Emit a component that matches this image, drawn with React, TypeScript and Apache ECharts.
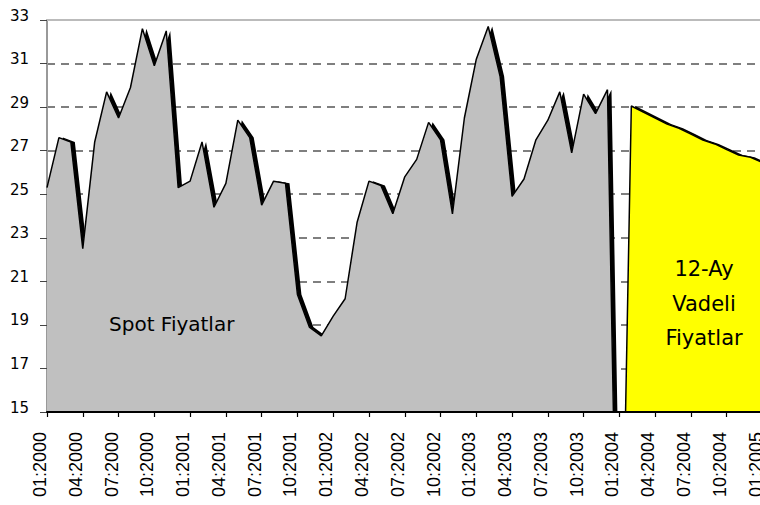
import React, { useEffect, useRef } from "react";
import * as echarts from "echarts";

const categories = [
  "01:2000","02:2000","03:2000","04:2000","05:2000","06:2000","07:2000","08:2000","09:2000","10:2000","11:2000","12:2000",
  "01:2001","02:2001","03:2001","04:2001","05:2001","06:2001","07:2001","08:2001","09:2001","10:2001","11:2001","12:2001",
  "01:2002","02:2002","03:2002","04:2002","05:2002","06:2002","07:2002","08:2002","09:2002","10:2002","11:2002","12:2002",
  "01:2003","02:2003","03:2003","04:2003","05:2003","06:2003","07:2003","08:2003","09:2003","10:2003","11:2003","12:2003",
  "01:2004","02:2004","03:2004","04:2004","05:2004","06:2004","07:2004","08:2004","09:2004","10:2004","11:2004","12:2004",
  "01:2005",
];

// Spot prices, 01:2000 .. 01:2004 (drops off below the axis at 01:2004)
const spotPrices = [
  25.3, 27.6, 27.4, 22.5, 27.4, 29.7, 28.5, 29.9, 32.6, 30.9, 32.5, 25.3,
  25.6, 27.4, 24.4, 25.5, 28.4, 27.6, 24.5, 25.6, 25.5, 20.4, 18.9, 18.5,
  19.4, 20.2, 23.7, 25.6, 25.4, 24.1, 25.8, 26.6, 28.3, 27.5, 24.1, 28.5,
  31.2, 32.7, 30.4, 24.9, 25.7, 27.5, 28.4, 29.7, 26.9, 29.6, 28.7, 29.8,
  0,
];

// 12-month futures prices, 01:2004 .. 01:2005
const futuresPrices = [
  0, 29.05, 28.77, 28.5, 28.22, 28.03, 27.76, 27.49, 27.31, 27.05, 26.8, 26.7, 26.45,
];

const yTicks = { min: 15, max: 33, interval: 2 };

const spotLabel = "Spot Fiyatlar";
const futuresLabel = "12-Ay\nVadeli\nFiyatlar";

export default function App() {
  const ref = useRef<HTMLDivElement>(null);

  useEffect(() => {
    if (!ref.current) return;
    const chart = echarts.init(ref.current, undefined, { renderer: "svg" });

    const spotData = categories.map((_, i) => (i < spotPrices.length ? spotPrices[i] : null));
    const futStart = categories.length - futuresPrices.length;
    const futData = categories.map((_, i) => (i >= futStart ? futuresPrices[i - futStart] : null));

    chart.setOption({
      animation: false,
      backgroundColor: "#ffffff",
      grid: { left: 47, top: 20, right: -2.5, bottom: 93, outerBoundsMode: "none" },
      xAxis: [
        {
          type: "category",
          data: categories,
          boundaryGap: false,
          position: "bottom",
          z: 10,
          axisLine: { lineStyle: { color: "#000", width: 2 } },
          axisTick: { interval: 2, length: 5, lineStyle: { color: "#000", width: 1.2 } },
          axisLabel: {
            interval: 2,
            rotate: 90,
            fontFamily: "Liberation Sans",
            fontSize: 18,
            color: "#000",
            margin: 20,
            verticalAlign: "bottom",
            lineHeight: 14,
          },
          splitLine: { show: false },
        },
        {
          type: "category",
          data: categories,
          boundaryGap: false,
          position: "top",
          axisLine: { lineStyle: { color: "#bbbbbb", width: 2 } },
          axisTick: { show: false },
          axisLabel: { show: false },
          splitLine: { show: false },
        },
      ],
      yAxis: {
        type: "value",
        min: yTicks.min,
        max: yTicks.max,
        interval: yTicks.interval,
        axisLine: { show: true, lineStyle: { color: "#999", width: 2 } },
        axisTick: { show: true, length: 7, lineStyle: { color: "#444" } },
        axisLabel: {
          fontFamily: "DejaVu Sans",
          fontSize: 15,
          color: "#000",
          margin: 18,
          verticalAlign: "bottom",
          lineHeight: 9,
        },
        splitLine: {
          show: true,
          showMinLine: false,
          showMaxLine: false,
          lineStyle: { color: "#555", width: 1.5, type: [8, 6] },
        },
      },
      series: [
        {
          name: "Spot Fiyatlar",
          type: "line",
          data: spotData,
          xAxisIndex: 0,
          showSymbol: false,
          lineStyle: { color: "#000", width: 1.5 },
          areaStyle: {
            color: "#c0c0c0",
            opacity: 1,
            shadowColor: "#000",
            shadowOffsetX: 4,
            shadowBlur: 0,
          },
          z: 2,
        },
        {
          name: "12-Ay Vadeli Fiyatlar",
          type: "line",
          data: futData,
          xAxisIndex: 0,
          showSymbol: false,
          lineStyle: { color: "#000", width: 1.5 },
          areaStyle: {
            color: "#ffff00",
            opacity: 1,
            shadowColor: "#000",
            shadowOffsetX: 4,
            shadowBlur: 0,
          },
          z: 2,
        },
      ],
      graphic: [
        {
          type: "text",
          x: 109,
          y: 323.5,
          z: 20,
          style: {
            text: spotLabel,
            fontFamily: "DejaVu Sans",
            fontSize: 20,
            fill: "#000",
            align: "left",
            verticalAlign: "middle",
          },
        },
        {
          type: "text",
          x: 704,
          y: 303.5,
          z: 20,
          style: {
            text: futuresLabel,
            fontFamily: "DejaVu Sans",
            fontSize: 21,
            lineHeight: 34.5,
            fill: "#000",
            align: "center",
            verticalAlign: "middle",
          },
        },
      ],
    });

    return () => chart.dispose();
  }, []);

  return (
    <div
      ref={ref}
      style={{ position: "absolute", left: 0, top: 0, width: 760, height: 505 }}
    />
  );
}
